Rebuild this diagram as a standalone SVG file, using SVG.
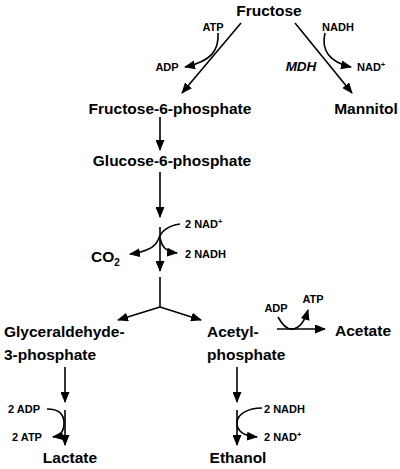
<svg xmlns="http://www.w3.org/2000/svg" width="400" height="469" viewBox="0 0 400 469">
<style>
text{font-family:"Liberation Sans",Arial,Helvetica,sans-serif;font-weight:bold;fill:#000}
.n{font-size:15.5px}
.s{font-size:11px}
.c line,.c path{stroke:#000;stroke-width:1.6;fill:none}
</style>
<defs>
<marker id="ah" markerUnits="userSpaceOnUse" markerWidth="11" markerHeight="9" refX="10" refY="4.5" orient="auto">
<path d="M0,0 L11,4.5 L0,9 z" fill="#000"/>
</marker>
</defs>
<rect width="400" height="469" fill="#fff"/>
<g class="c" id="connectors">
<line x1="241" y1="23" x2="182" y2="93" marker-end="url(#ah)"/>
<path d="M218,33 C219,50 212,61 185,67" marker-end="url(#ah)"/>
<line x1="295" y1="23" x2="352" y2="93" marker-end="url(#ah)"/>
<path d="M325,33 C321,50 329,62 351,67" marker-end="url(#ah)"/>
<line x1="160" y1="117" x2="160" y2="150" marker-end="url(#ah)"/>
<line x1="160" y1="172" x2="160" y2="217" marker-end="url(#ah)"/>
<line x1="160" y1="227" x2="160" y2="271" marker-end="url(#ah)"/>
<path d="M180,224 C165,226 160,234 158,240 C155,248 145,252 130,254" marker-end="url(#ah)"/>
<path d="M160,238 C162,247 166,252 177,253" marker-end="url(#ah)"/>
<line x1="160" y1="277" x2="160" y2="307"/>
<line x1="160" y1="307" x2="118" y2="320" marker-end="url(#ah)"/>
<line x1="160" y1="307" x2="201" y2="320" marker-end="url(#ah)"/>
<line x1="277" y1="329" x2="325" y2="329" marker-end="url(#ah)"/>
<path d="M278,317 C283,326 288,330 293,329 C300,328 305,320 308,310" marker-end="url(#ah)"/>
<line x1="65" y1="367" x2="65" y2="402" marker-end="url(#ah)"/>
<line x1="65" y1="410" x2="65" y2="445" marker-end="url(#ah)"/>
<path d="M47,409 C58,409 64,414 64,423 C64,431 61,436 53,437" marker-end="url(#ah)"/>
<line x1="237" y1="367" x2="237" y2="402" marker-end="url(#ah)"/>
<line x1="237" y1="410" x2="237" y2="445" marker-end="url(#ah)"/>
<path d="M262,408 C248,408 237,414 237,423 C237,431 244,436 257,437" marker-end="url(#ah)"/>
</g>
<g id="fructose"><text class="n" x="269" y="16" text-anchor="middle">Fructose</text></g>
<g id="atp1"><text class="s" x="213" y="31" text-anchor="middle">ATP</text></g>
<g id="adp1"><text class="s" x="167" y="71" text-anchor="middle">ADP</text></g>
<g id="nadh1"><text class="s" x="338" y="31" text-anchor="middle">NADH</text></g>
<g id="nad1"><text class="s" x="357" y="71">NAD<tspan font-size="7.5" dy="-4">+</tspan></text></g>
<g id="mdh"><text x="301" y="71" text-anchor="middle" font-size="13.5" font-style="italic">MDH</text></g>
<g id="f6p"><text class="n" x="170" y="114" text-anchor="middle">Fructose-6-phosphate</text></g>
<g id="mannitol"><text class="n" x="366" y="114" text-anchor="middle">Mannitol</text></g>
<g id="g6p"><text class="n" x="172" y="166" text-anchor="middle">Glucose-6-phosphate</text></g>
<g id="nad2"><text class="s" x="185" y="228">2 NAD<tspan font-size="7.5" dy="-4">+</tspan></text></g>
<g id="nadh2"><text class="s" x="185" y="258">2 NADH</text></g>
<g id="co2"><text class="n" x="91" y="262">CO<tspan font-size="10" dy="4">2</tspan></text></g>
<g id="gap"><text class="n" x="4" y="337">Glyceraldehyde-</text><text class="n" x="4" y="360">3-phosphate</text></g>
<g id="acp"><text class="n" x="207" y="337">Acetyl-</text><text class="n" x="207" y="360">phosphate</text></g>
<g id="adp3"><text class="s" x="276" y="312" text-anchor="middle">ADP</text></g>
<g id="atp3"><text class="s" x="313" y="303" text-anchor="middle">ATP</text></g>
<g id="acetate"><text class="n" x="335" y="336">Acetate</text></g>
<g id="adp2"><text class="s" x="8" y="413">2 ADP</text></g>
<g id="atp2"><text class="s" x="12" y="441">2 ATP</text></g>
<g id="lactate"><text class="n" x="70" y="463" text-anchor="middle">Lactate</text></g>
<g id="nadh3"><text class="s" x="264" y="413">2 NADH</text></g>
<g id="nad3"><text class="s" x="264" y="441">2 NAD<tspan font-size="7.5" dy="-4">+</tspan></text></g>
<g id="ethanol"><text class="n" x="238" y="463" text-anchor="middle">Ethanol</text></g>
</svg>
